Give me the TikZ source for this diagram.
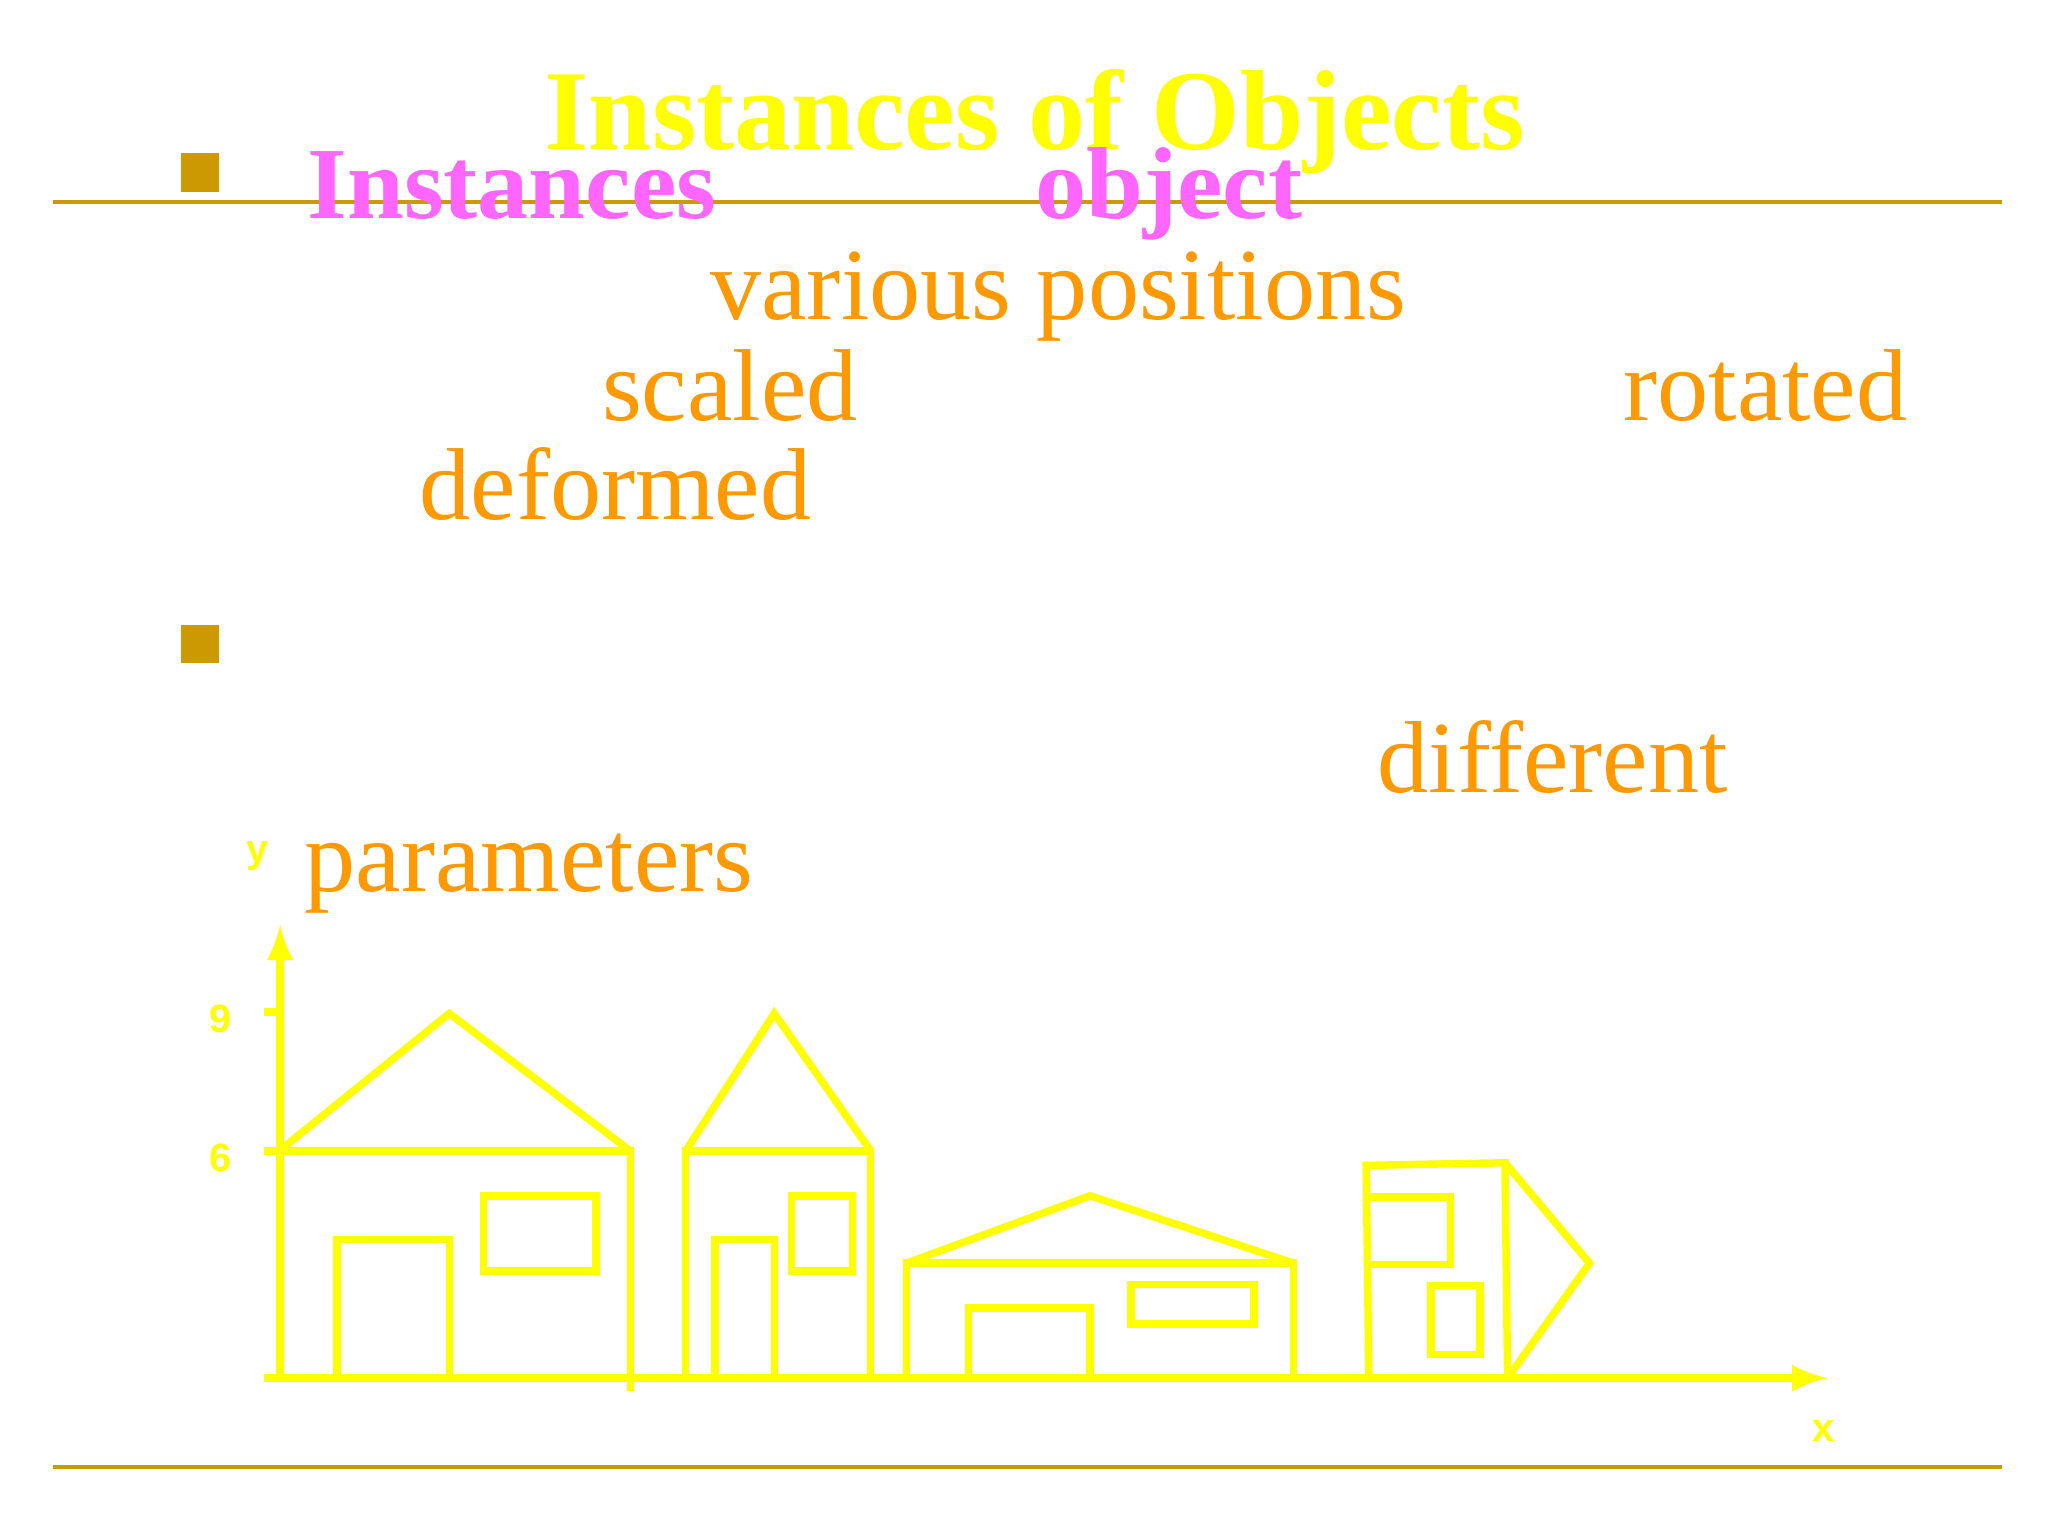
\documentclass[tikz,border=0pt]{standalone}
\usepackage{fontspec}
\setmainfont{Liberation Serif}
\newfontfamily\sansf{Liberation Sans}
\definecolor{gold}{HTML}{CC9900}
\definecolor{yel}{HTML}{FFFF00}
\definecolor{org}{HTML}{FF9900}
\definecolor{pnk}{HTML}{FF66FF}
\begin{document}
\begin{tikzpicture}[x=0.01cm,y=-0.01cm,
  big/.style={font=\fontsize{22}{26}\selectfont,inner sep=0,anchor=base west},
  ot/.style={big,text=org},
  pk/.style={big,text=pnk,font=\fontsize{22}{26}\selectfont\bfseries},
  lab/.style={text=yel,font=\sansf\bfseries\fontsize{8.5}{9}\selectfont,inner sep=0},
  hs/.style={draw=yel,line width=1.6pt},
  rule/.style={draw=gold,line width=0.9pt}]
\useasboundingbox (0,0) rectangle (1550,1162.5);
\fill[white] (0,0) rectangle (1550,1162.5);
\draw[rule] (40,153) -- (1515,153);
\draw[rule] (40,1110) -- (1515,1110);
\fill[gold] (137,116) rectangle (166,145);
\fill[gold] (137,473) rectangle (166,502);
\node[big,anchor=base,text=yel,font=\fontsize{24.5}{28}\selectfont\bfseries] (title) at (783,113) {Instances of Objects};
\node[pk] (t1) at (232,165) {Instances};
\node[pk] (t2) at (783,165) {object};
\node[ot] (t3) at (537,242) {various positions};
\node[ot] (t4) at (455,318) {scaled};
\node[ot] (t5) at (1228,318) {rotated};
\node[ot] (t6) at (317,393) {deformed};
\node[ot] (t7) at (1042,600) {different};
\node[ot] (t8) at (230,675) {parameters};
% axes
\coordinate (o) at (212,1043);
\coordinate (ytop) at (212,700);
\coordinate (xs) at (200,1043);
\coordinate (xe) at (1383,1043);
\draw[hs,-latex] (o) -- (ytop);
\draw[hs,-latex] (xs) -- (xe);
\draw[hs] (200,766) -- (212,766);
\draw[hs] (200,871) -- (212,871);
\draw[hs] (477,1043) -- (477,1053);
\node[lab] (n9) at (167,771) {9};
\node[lab] (n6) at (167,876) {6};
\node[lab] (ny) at (195,648) {y};
\node[lab] (nx) at (1380,1083) {x};
% house 1
\draw[hs] (212,1043) -- (212,871) -- (477,871) -- (477,1043);
\draw[hs] (215,868) -- (340,767) -- (477,871);
\draw[hs] (255,1043) -- (255,938) -- (340,938) -- (340,1043);
\draw[hs] (366,905) rectangle (451,962);
% house 2
\draw[hs] (519,1043) -- (519,871) -- (659,871) -- (659,1043);
\draw[hs] (519,871) -- (586,767) -- (659,871);
\draw[hs] (541,1043) -- (541,938) -- (586,938) -- (586,1043);
\draw[hs] (599,905) rectangle (645,962);
% house 3
\draw[hs] (686,1043) -- (686,956) -- (979,956) -- (979,1043);
\draw[hs] (686,956) -- (825,905) -- (979,956);
\draw[hs] (733,1043) -- (733,990) -- (825,990) -- (825,1043);
\draw[hs] (856,972) rectangle (949,1002);
% house 4
\draw[hs] (1036,1043) -- (1034,882) -- (1139,880) -- (1141,1043);
\draw[hs] (1139,880) -- (1203,956) -- (1141,1043);
\draw[hs] (1036,906) -- (1098,906) -- (1098,957) -- (1036,957);
\draw[hs] (1083,973) rectangle (1120,1025);
\end{tikzpicture}
\end{document}
